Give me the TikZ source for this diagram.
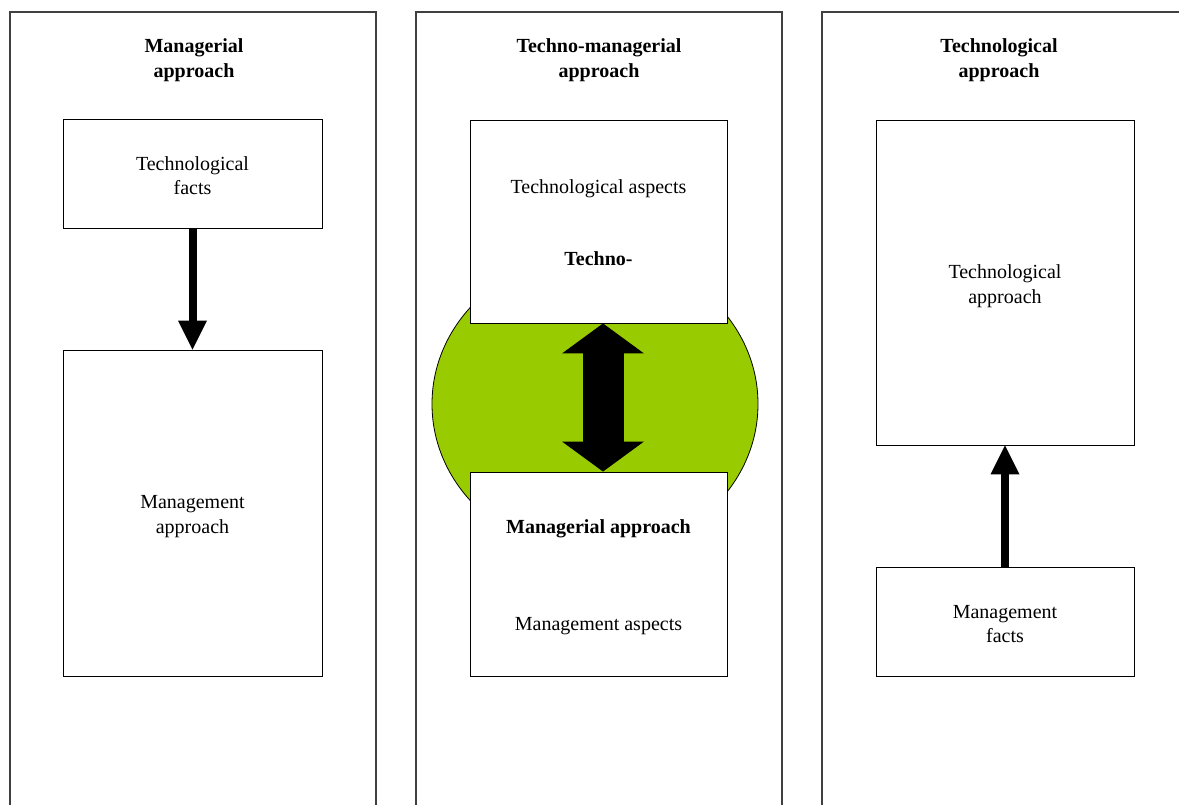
\documentclass[tikz,border=0pt]{standalone}
\usepackage{fontspec}
\setmainfont{Liberation Serif}
\usetikzlibrary{arrows.meta}
\definecolor{leaf}{HTML}{99CC00}
\begin{document}
\begin{tikzpicture}[x=1pt,y=-1pt,
  panel/.style={draw=black!75,line width=1.1pt},
  box/.style={draw=black,line width=0.9pt,fill=white,inner sep=0pt},
  txt/.style={font=\fontsize{20}{24.5}\selectfont,align=center,inner sep=0pt},
  heading/.style={font=\fontsize{20}{24.5}\selectfont\bfseries,align=center,inner sep=0pt},
  flow/.style={line width=8pt,-{Triangle[width=29pt,length=29pt,line width=0pt]}},
  bothway/.style={line width=41pt,
    {Triangle[width=82pt,length=30pt,line width=0pt]}-{Triangle[width=82pt,length=30pt,line width=0pt]}},
]
\useasboundingbox (0,0) rectangle (1179,805);
\clip (0,0) rectangle (1179,805);

% three open-bottomed panels
\draw[panel] (10,820) -- (10,12) -- (376,12) -- (376,820);
\draw[panel] (416,820) -- (416,12) -- (782,12) -- (782,820);
\draw[panel] (822,820) -- (822,12) -- (1188,12) -- (1188,820);

% panel headings
\node[heading] (h1) at (194,60) {Managerial\\approach};
\node[heading] (h2) at (599,60) {Techno-managerial\\approach};
\node[heading] (h3) at (999,60) {Technological\\approach};

% managerial approach
\node[box,minimum width=259pt,minimum height=109pt] (tf) at (192.5,173.5) {};
\node[txt] (tfl) at (192.5,175.5) {Technological\\facts};
\node[box,minimum width=259pt,minimum height=326pt] (ma) at (192.5,513) {};
\node[txt] (mal) at (192.5,516.5) {Management\\approach};
\draw[flow] (tf.south) -- (ma.north);

% techno-managerial approach
\filldraw[fill=leaf,draw=black,line width=0.8pt] (595,404) ellipse [x radius=163pt, y radius=150pt];
\node[box,minimum width=257pt,minimum height=203pt] (tas) at (598.5,221.5) {};
\node[box,minimum width=257pt,minimum height=204pt] (mas) at (598.5,574) {};
\node[txt] (tasl) at (598.5,189) {Technological aspects};
\node[heading] (techno) at (598.5,259) {Techno-};
\node[heading] (mgr) at (598.5,529) {Managerial approach};
\node[txt] (masl) at (598.5,626) {Management aspects};
\draw[bothway] ([xshift=4.5pt]tas.south) -- ([xshift=4.5pt]mas.north);

% technological approach
\node[box,minimum width=258pt,minimum height=325pt] (tap) at (1005,282.5) {};
\node[txt] (tapl) at (1005,286) {Technological\\approach};
\node[box,minimum width=258pt,minimum height=109pt] (mf) at (1005,621.5) {};
\node[txt] (mfl) at (1005,624) {Management\\facts};
\draw[flow] (mf.north) -- (tap.south);
\end{tikzpicture}
\end{document}
